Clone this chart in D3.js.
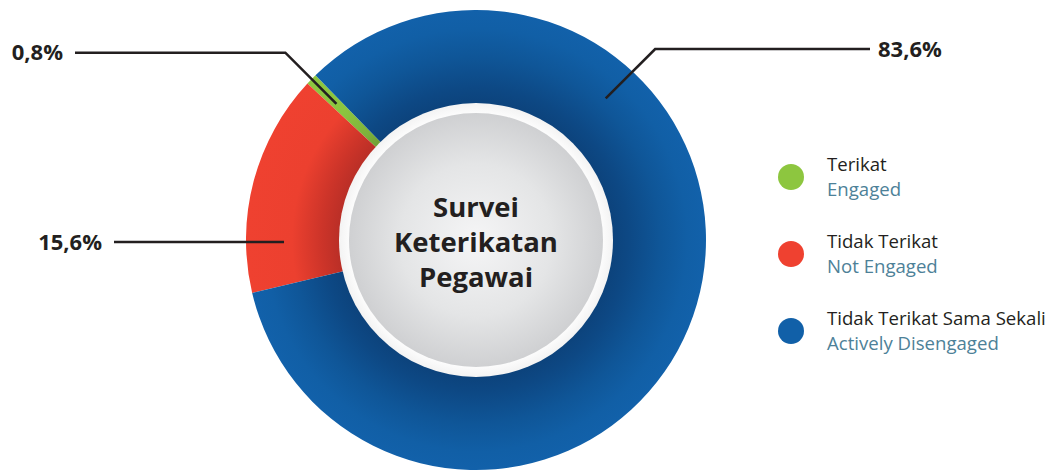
<!DOCTYPE html>
<html>
<head>
<meta charset="utf-8">
<script src="https://cdn.jsdelivr.net/npm/d3@7"></script>
<style>
  html, body { margin: 0; padding: 0; background: #ffffff; }
  svg { display: block; }
</style>
</head>
<body>
<svg id="chart" width="1049" height="470"></svg>
<script>
// Survey result: employee engagement shares
const categories = ["Terikat", "Tidak Terikat", "Tidak Terikat Sama Sekali"];
const categoriesEn = ["Engaged", "Not Engaged", "Actively Disengaged"];
const values = [0.8, 15.6, 83.6];
const valueLabels = ["0,8%", "15,6%", "83,6%"];
const centerTitle = ["Survei", "Keterikatan", "Pegawai"];

// ---- layout & style ----
const W = 1049, H = 470;
const cx = 476, cy = 240;
const outerR = 230, innerR = 132;
const ringR = 137, discR = 127;
const deg = Math.PI / 180;

// clockwise drawing order of the slices (red, green, blue) and where the first one starts
const clockwiseOrder = [1, 0, 2];
const startDeg = -103.3;

const sliceStops = [
  // green
  [[0.57, "#6a9a33"], [0.66, "#7db23b"], [0.8, "#8cc53f"], [1, "#8dc63f"]],
  // red
  [[0.57, "#b42d26"], [0.67, "#cc3429"], [0.8, "#ec402f"], [1, "#ef4130"]],
  // blue
  [[0.57, "#0c4179"], [0.66, "#0d4884"], [0.8, "#0f5698"], [0.92, "#115fa6"], [1, "#1261aa"]]
];
const legendColors = ["#8dc63f", "#ef4130", "#1160a8"];

// leader lines: anchor angle (deg, clockwise from top), anchor radius, y of the horizontal run, outer end x
const leaders = [
  { angle: null, r: 195, lineY: 52.7, endX: 75, side: "left" },   // follows the slice centre
  { angle: -90.6, r: 192, lineY: null, endX: 114, side: "left" },
  { angle: 42.5, r: 192, lineY: 49, endX: 870, side: "right" }
];

const svg = d3.select("#chart");
const defs = svg.append("defs");

const pie = d3.pie()
  .value(i => values[i])
  .sort((a, b) => clockwiseOrder.indexOf(a) - clockwiseOrder.indexOf(b))
  .startAngle(startDeg * deg)
  .endAngle(startDeg * deg + 2 * Math.PI);

const arcs = pie(d3.range(values.length));
const arc = d3.arc().innerRadius(innerR).outerRadius(outerR);

// radial shading per slice
sliceStops.forEach((stops, i) => {
  const g = defs.append("radialGradient")
    .attr("id", "slice" + i)
    .attr("gradientUnits", "userSpaceOnUse")
    .attr("cx", 0).attr("cy", 0).attr("r", outerR);
  stops.forEach(s => g.append("stop").attr("offset", s[0]).attr("stop-color", s[1]));
});

const disc = defs.append("radialGradient").attr("id", "disc")
  .attr("cx", "50%").attr("cy", "50%").attr("r", "50%");
disc.append("stop").attr("offset", 0).attr("stop-color", "#f5f5f6");
disc.append("stop").attr("offset", 0.6).attr("stop-color", "#e4e5e6");
disc.append("stop").attr("offset", 1).attr("stop-color", "#cfd0d2");

const ringShade = defs.append("radialGradient").attr("id", "ring")
  .attr("cx", "50%").attr("cy", "50%").attr("r", "50%");
ringShade.append("stop").attr("offset", 0.9).attr("stop-color", "#ffffff");
ringShade.append("stop").attr("offset", 1).attr("stop-color", "#f3f3f3");

const donut = svg.append("g").attr("transform", `translate(${cx},${cy})`);

donut.selectAll("path.slice")
  .data(arcs)
  .join("path")
  .attr("class", "slice")
  .attr("d", arc)
  .attr("fill", d => `url(#slice${d.data})`);

donut.append("circle").attr("r", ringR).attr("fill", "url(#ring)");
donut.append("circle").attr("r", discR).attr("fill", "url(#disc)");

// centre title
const title = donut.append("text")
  .attr("text-anchor", "middle")
  .attr("font-family", "'Open Sans', sans-serif")
  .attr("font-weight", 700)
  .attr("font-size", 27.5)
  .attr("fill", "#231f20");
centerTitle.forEach((t, i) => {
  title.append("tspan").attr("x", 0).attr("y", -23 + i * 35).text(t);
});

// value labels with leader lines
const labelLayer = svg.append("g");
arcs.forEach(d => {
  const i = d.data;
  const L = leaders[i];
  const a = L.angle === null ? (d.startAngle + d.endAngle) / 2 : L.angle * deg;
  const ax = cx + L.r * Math.sin(a);
  const ay = cy - L.r * Math.cos(a);
  const lineY = L.lineY === null ? ay : L.lineY;
  const rise = ay - lineY;
  const ex = L.side === "left" ? ax - rise : ax + rise;
  const pts = [[ax, ay], [ex, lineY], [L.endX, lineY]];
  labelLayer.append("path")
    .attr("d", d3.line()(pts))
    .attr("fill", "none")
    .attr("stroke", "#231f20")
    .attr("stroke-width", 2.6);
  labelLayer.append("text")
    .attr("x", L.side === "left" ? L.endX - 12 : L.endX + 8)
    .attr("y", lineY + 7.5)
    .attr("text-anchor", L.side === "left" ? "end" : "start")
    .attr("font-family", "'Open Sans', sans-serif")
    .attr("font-weight", 700)
    .attr("font-size", 22)
    .attr("fill", "#231f20")
    .text(valueLabels[i]);
});

// legend
const legendY = d3.scalePoint().domain(d3.range(categories.length)).range([177, 331]);
const legend = svg.append("g");
categories.forEach((c, i) => {
  const y = legendY(i);
  legend.append("circle").attr("cx", 791).attr("cy", y).attr("r", 13).attr("fill", legendColors[i]);
  legend.append("text")
    .attr("x", 827).attr("y", y - 6)
    .attr("font-family", "'Open Sans', sans-serif")
    .attr("font-size", 18.6)
    .attr("fill", "#231f20")
    .text(c);
  legend.append("text")
    .attr("x", 827).attr("y", y + 19)
    .attr("font-family", "'Open Sans', sans-serif")
    .attr("font-size", 18.6)
    .attr("fill", "#4d8198")
    .text(categoriesEn[i]);
});
</script>
</body>
</html>
